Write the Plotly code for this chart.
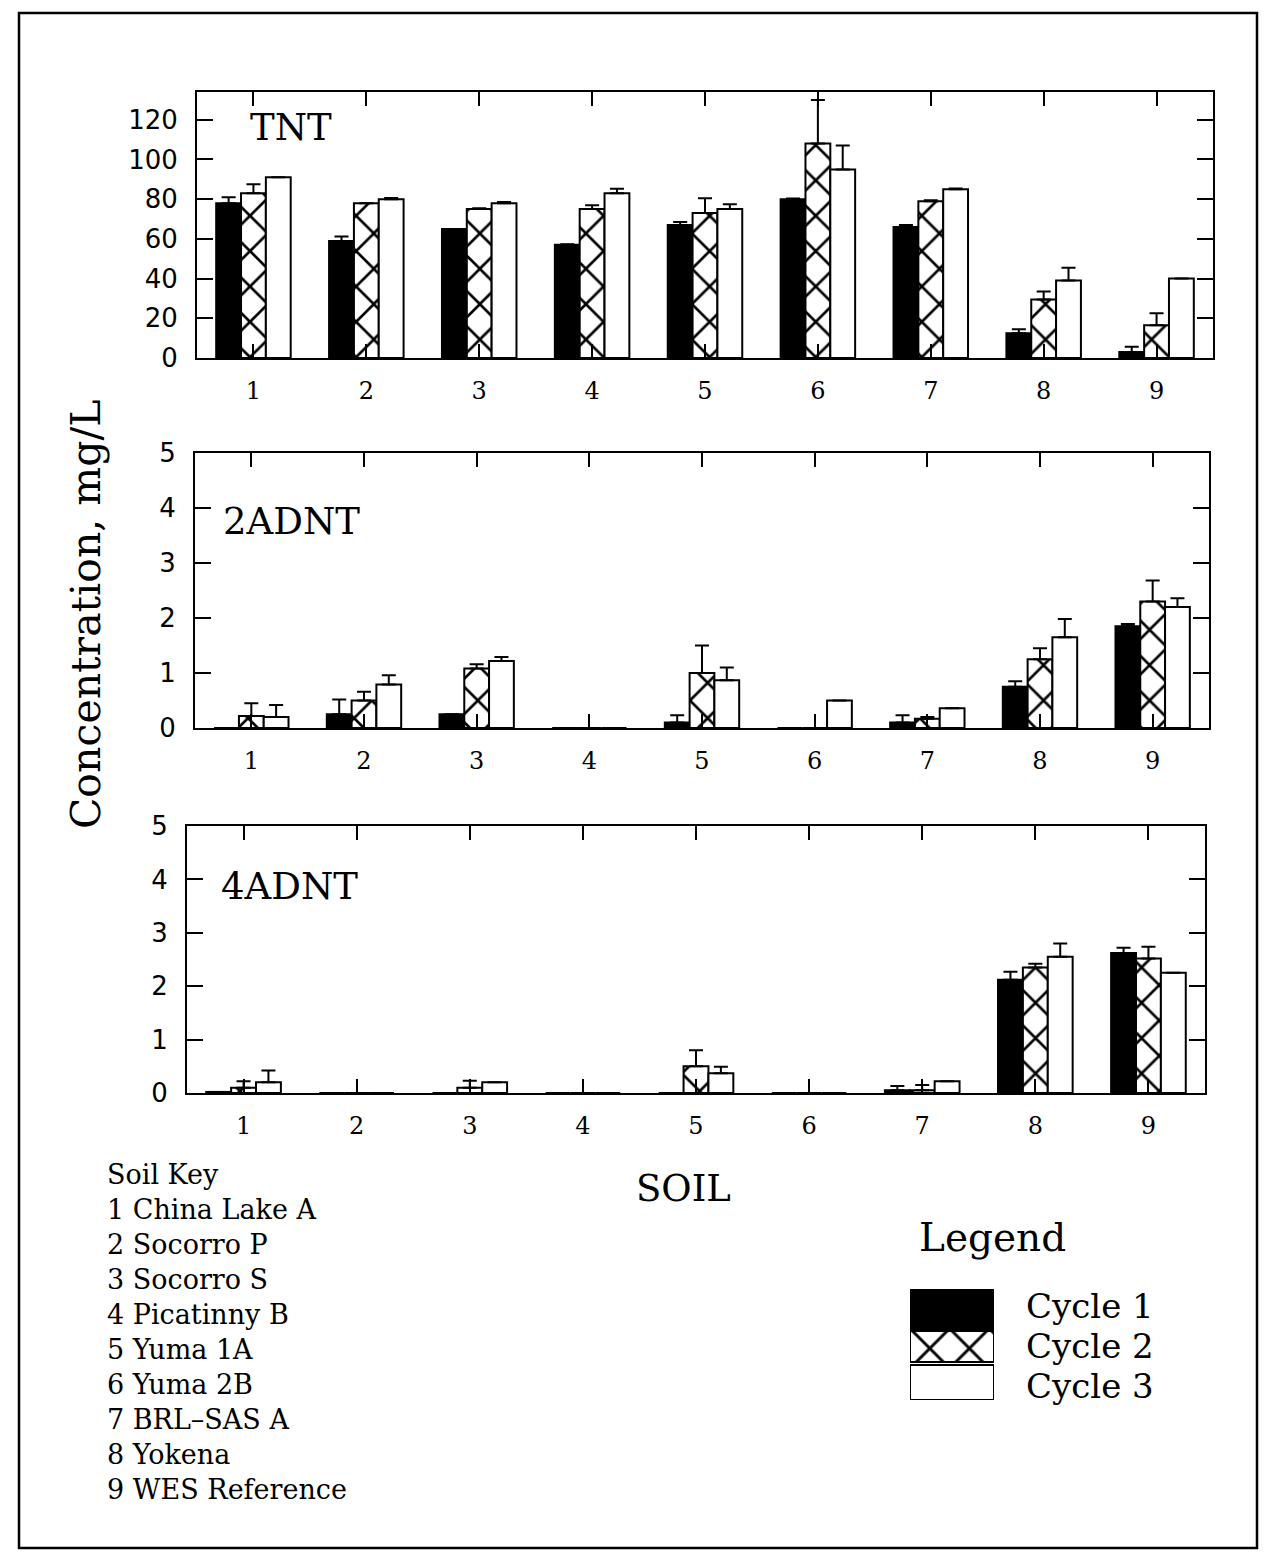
import plotly.graph_objects as go

# ---------------- data ----------------
soils = [1, 2, 3, 4, 5, 6, 7, 8, 9]
soil_labels = ["1", "2", "3", "4", "5", "6", "7", "8", "9"]
soil_names = ["China Lake A", "Socorro P", "Socorro S", "Picatinny B", "Yuma 1A",
              "Yuma 2B", "BRL\u2013SAS A", "Yokena", "WES Reference"]
cycles = ["Cycle 1", "Cycle 2", "Cycle 3"]
analytes = ["TNT", "2ADNT", "4ADNT"]

tnt_c1 = [78, 59, 65, 57, 67, 80, 66, 12.5, 3]
tnt_c2 = [83, 78, 75, 75, 73, 108, 79, 29.5, 16.5]
tnt_c3 = [91, 80, 78, 83, 75, 95, 85, 39, 40]
tnt_e1 = [3, 2.2, 0, 0.3, 1.5, 0.3, 1, 2, 2.7]
tnt_e2 = [4.5, 0, 0.5, 2, 7.5, 22, 0.5, 4, 6]
tnt_e3 = [0, 0.6, 0.6, 2.2, 2.5, 12, 0.4, 6.5, 0]

adnt2_c1 = [0, 0.25, 0.25, 0, 0.1, 0, 0.1, 0.75, 1.85]
adnt2_c2 = [0.22, 0.5, 1.08, 0, 1.0, 0, 0.17, 1.25, 2.3]
adnt2_c3 = [0.2, 0.79, 1.22, 0, 0.87, 0.5, 0.36, 1.65, 2.2]
adnt2_e1 = [0, 0.27, 0, 0, 0.13, 0, 0.13, 0.1, 0.04]
adnt2_e2 = [0.23, 0.16, 0.08, 0, 0.5, 0, 0.03, 0.2, 0.38]
adnt2_e3 = [0.22, 0.17, 0.07, 0, 0.23, 0, 0, 0.33, 0.16]

adnt4_c1 = [0.02, 0, 0, 0, 0, 0, 0.05, 2.12, 2.62]
adnt4_c2 = [0.1, 0, 0.1, 0, 0.5, 0, 0.05, 2.35, 2.52]
adnt4_c3 = [0.2, 0, 0.2, 0, 0.37, 0, 0.22, 2.55, 2.25]
adnt4_e1 = [0, 0, 0, 0, 0, 0, 0.08, 0.15, 0.1]
adnt4_e2 = [0.12, 0, 0.13, 0, 0.3, 0, 0.1, 0.07, 0.22]
adnt4_e3 = [0.22, 0, 0, 0, 0.12, 0, 0, 0.25, 0]

tnt_ticks = [0, 20, 40, 60, 80, 100, 120]
adnt_ticks = [0, 1, 2, 3, 4, 5]

# ---------------- layout helpers (screen pixels -> paper) ----------------
W, H, OFF = 1254, 1542, 8


def px(x):
    return (x - OFF) / W


def py(y):
    return 1 - (y - OFF) / H


SERIF = "DejaVu Serif"
SANS = "DejaVu Sans"

styles = [
    dict(color="black", line=dict(color="black", width=2)),
    dict(color="white", line=dict(color="black", width=2),
         pattern=dict(shape="x", fgcolor="black", bgcolor="white", fgopacity=1,
                      size=25, solidity=0.2)),
    dict(color="white", line=dict(color="black", width=2)),
]

panels = [
    dict(name=analytes[0], vals=[tnt_c1, tnt_c2, tnt_c3], errs=[tnt_e1, tnt_e2, tnt_e3],
         ticks=tnt_ticks, yr=[0, 134], box=(197, 1213, 92, 358), lab=(248, 128)),
    dict(name=analytes[1], vals=[adnt2_c1, adnt2_c2, adnt2_c3], errs=[adnt2_e1, adnt2_e2, adnt2_e3],
         ticks=adnt_ticks, yr=[0, 5], box=(195, 1209, 453, 728), lab=(221, 522)),
    dict(name=analytes[2], vals=[adnt4_c1, adnt4_c2, adnt4_c3], errs=[adnt4_e1, adnt4_e2, adnt4_e3],
         ticks=adnt_ticks, yr=[0, 5], box=(187, 1205, 826, 1093), lab=(219, 886)),
]

fig = go.Figure()
annotations = []

for i, p in enumerate(panels):
    sfx = "" if i == 0 else str(i + 1)
    for k in range(3):
        fig.add_trace(go.Bar(
            x=soils, y=p["vals"][k], name=cycles[k], showlegend=False,
            xaxis="x" + sfx, yaxis="y" + sfx,
            marker=styles[k],
            error_y=dict(type="data", symmetric=False, array=p["errs"][k],
                         arrayminus=[0] * len(soils), color="black", thickness=2, width=7),
        ))
    x0, x1, y0, y1 = p["box"]
    fig.layout["xaxis" + sfx] = dict(
        domain=[px(x0), px(x1)], range=[0.5, 9.5], anchor="y" + sfx, automargin=False,
        tickvals=soils, ticktext=soil_labels, ticks="inside", ticklen=14, tickwidth=2,
        tickcolor="black", showline=True, linewidth=2, linecolor="black", mirror="ticks",
        showgrid=False, zeroline=False, ticklabelstandoff=10,
        tickfont=dict(family=SERIF, size=24, color="black"))
    fig.layout["yaxis" + sfx] = dict(
        domain=[py(y1), py(y0)], range=p["yr"], anchor="x" + sfx, automargin=False,
        tickvals=p["ticks"], ticks="inside", ticklen=16, tickwidth=2,
        tickcolor="black", showline=True, linewidth=2, linecolor="black", mirror="ticks",
        showgrid=False, zeroline=False, ticklabelstandoff=12,
        tickfont=dict(family=SANS, size=26, color="black"))
    annotations.append(dict(text=p["name"], x=px(p["lab"][0]), y=py(p["lab"][1]),
                            xref="paper", yref="paper", xanchor="left", yanchor="middle",
                            showarrow=False, font=dict(family=SERIF, size=37, color="black")))

# ---------------- legend swatch (hidden axes) ----------------
legend_base = [69, 38, 0]
legend_height = [42, 31, 35]
legend_styles = [styles[0],
                 dict(color="white", line=dict(color="black", width=2),
                      pattern=dict(shape="x", fgcolor="black", bgcolor="white", fgopacity=1,
                                   size=28, solidity=0.2)),
                 styles[2]]
for k in range(3):
    fig.add_trace(go.Bar(
        x=[0], y=[legend_height[k]], base=[legend_base[k]], width=[1], offsetgroup="legend",
        xaxis="x4", yaxis="y4", showlegend=False, marker=legend_styles[k], hoverinfo="skip"))
fig.layout["xaxis4"] = dict(domain=[px(910), px(994)], range=[-0.5, 0.5], visible=False,
                            anchor="y4", automargin=False)
fig.layout["yaxis4"] = dict(domain=[py(1400), py(1289)], range=[0, 111], visible=False,
                            anchor="x4", automargin=False)

# ---------------- texts ----------------
annotations.append(dict(text="Concentration, mg/L", x=px(86), y=py(614), xref="paper", yref="paper",
                        textangle=-90, showarrow=False, xanchor="center", yanchor="middle",
                        font=dict(family=SERIF, size=41, color="black")))
annotations.append(dict(text="SOIL", x=px(683), y=py(1188), xref="paper", yref="paper",
                        showarrow=False, xanchor="center", yanchor="middle",
                        font=dict(family=SERIF, size=37, color="black")))
annotations.append(dict(text="Soil Key", x=px(105), y=py(1174), xref="paper", yref="paper",
                        showarrow=False, xanchor="left", yanchor="middle",
                        font=dict(family=SERIF, size=27, color="black")))
for j, nm in enumerate(soil_names):
    annotations.append(dict(text=f"{soils[j]} {nm}", x=px(105), y=py(1209 + 35 * j),
                            xref="paper", yref="paper", showarrow=False,
                            xanchor="left", yanchor="middle",
                            font=dict(family=SERIF, size=27, color="black")))
annotations.append(dict(text="Legend", x=px(917), y=py(1237), xref="paper", yref="paper",
                        showarrow=False, xanchor="left", yanchor="middle",
                        font=dict(family=SERIF, size=39, color="black")))
for k, c in enumerate(cycles):
    annotations.append(dict(text=c, x=px(1024), y=py(1306 + 40 * k), xref="paper", yref="paper",
                            showarrow=False, xanchor="left", yanchor="middle",
                            font=dict(family=SERIF, size=34, color="black")))

fig.update_layout(
    width=W, height=H, margin=dict(l=0, r=0, t=0, b=0, pad=0, autoexpand=False),
    paper_bgcolor="white", plot_bgcolor="white",
    barmode="group", bargap=0.34, bargroupgap=0.0,
    annotations=annotations,
    shapes=[dict(type="rect", xref="paper", yref="paper",
                 x0=px(19), x1=px(1257), y0=py(1548), y1=py(13),
                 line=dict(color="black", width=2.5), layer="below")],
)

fig.write_html("out.html")
